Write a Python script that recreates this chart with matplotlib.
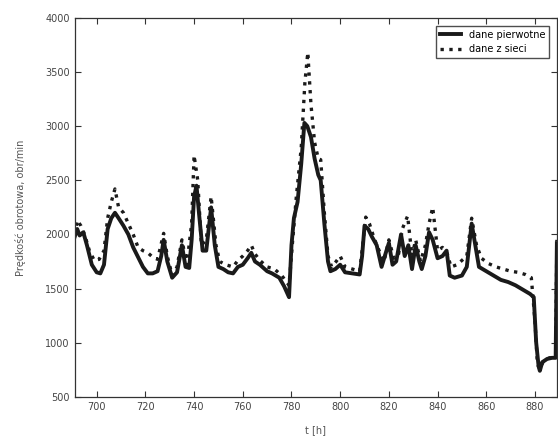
import matplotlib
matplotlib.use("Agg")
import matplotlib.pyplot as plt

# dane pierwotne (solid line)
t_pierw = [691, 692, 693, 694.5, 696, 698, 700, 701.5, 703, 704.5, 706, 707.5, 709, 711, 713,
           715, 717, 719, 721, 723, 725, 726.5, 727.5, 729, 731, 733, 735, 736.5, 738, 739,
           740, 741, 742, 743.5, 745, 747, 748.5, 750, 752, 754, 756, 758, 760, 762, 763.5,
           765, 767, 770, 772, 775, 777, 779, 780, 781, 782.5, 784, 785.3, 786.5, 788, 789.5,
           791, 792, 793.5, 795, 796, 798, 800, 802, 805, 808, 809, 810, 811.5, 813, 815,
           817, 819, 820, 821.5, 823, 825, 826.5, 828, 829.5, 831, 832.5, 833.5, 835, 836.5,
           838, 840, 842, 843.7, 845, 847, 850, 852, 854, 855.5, 857, 860, 863, 866, 869,
           872, 875, 878, 879.5, 880.5, 881.5, 882, 883, 885, 887, 888.5, 889]
v_pierw = [1980, 2050, 1990, 2020, 1900, 1720, 1650, 1640, 1720, 2050, 2150, 2200, 2150, 2080, 2000,
           1880, 1790, 1700, 1640, 1640, 1660, 1800, 1950, 1750, 1600, 1650, 1900, 1700, 1690, 1950,
           2350, 2450, 2200, 1850, 1850, 2250, 1900, 1700, 1680, 1650, 1640, 1700, 1720, 1780, 1830,
           1750, 1720, 1660, 1640, 1600, 1520, 1420, 1900, 2150, 2300, 2650, 3030, 3000, 2900, 2700,
           2550, 2500, 2100, 1750, 1660, 1680, 1720, 1650, 1640, 1630, 1800, 2080, 2050, 1980, 1900,
           1700, 1850, 1920, 1720, 1750, 2000, 1800, 1900, 1680, 1900, 1750, 1680, 1800, 2020,
           1950, 1780, 1800, 1850, 1620, 1600, 1620, 1700, 2100, 1900, 1700, 1660, 1620, 1580, 1560,
           1530, 1490, 1450, 1420, 1000, 780, 740, 820, 850, 860, 860, 1920]

# dane z sieci (dotted line)
t_siec = [691, 692, 693.5, 695, 697, 699, 701, 703, 704.5, 706, 707.5, 709, 711, 713, 715,
          717, 719, 721, 723, 725, 727.5, 729, 731, 733, 735, 737, 739, 740, 741.5, 743,
          745, 747, 749, 750.5, 753, 756, 758, 760, 762, 763.5, 765, 767, 770, 773, 776,
          779, 780.5, 782, 784, 785.5, 786.7, 788, 789.5, 791, 792, 793.5, 795, 796.5, 798,
          800, 802, 805, 808, 809, 810.5, 812, 814, 816, 818, 820, 822, 824, 825.5, 827.7,
          829.5, 831, 833, 835, 836.5, 838, 840, 842, 844, 845.5, 848, 850, 852, 854, 856,
          858, 861, 864, 867, 870, 873, 876, 878.5, 880, 881, 882, 883.5, 886, 888.5, 889]
v_siec = [2000, 2130, 2080, 2000, 1850, 1760, 1770, 1850, 2150, 2300, 2420, 2250, 2200, 2100, 2000,
          1880, 1850, 1830, 1790, 1770, 2010, 1800, 1620, 1700, 1950, 1720, 2100, 2730, 2500, 1900,
          1950, 2350, 1900, 1750, 1720, 1700, 1760, 1800, 1850, 1900, 1820, 1760, 1700, 1680, 1620,
          1530, 1950, 2350, 2800, 3400, 3680, 3200, 2850, 2700, 2690, 2200, 1800, 1700, 1740,
          1800, 1700, 1680, 1660, 1850, 2160, 2100, 1960, 1850, 1750, 1950, 1780, 1820, 2050, 2170,
          1800, 1950, 1750, 1900, 2100, 2250, 1850, 1880, 1820, 1700, 1720, 1760, 1800, 2150, 1900,
          1780, 1730, 1700, 1680, 1660, 1650, 1630, 1600, 1200, 800, 760, 830, 860, 870, 1950]

x_ticks = list(range(700, 881, 20))
y_ticks = list(range(500, 4001, 500))

fig = plt.figure(figsize=(5.58, 4.37), dpi=100)
ax = fig.add_axes([0.134, 0.092, 0.864, 0.867])

ax.plot(t_pierw, v_pierw, color="#1a1a1a", linewidth=2.8, label="dane pierwotne")
ax.plot(t_siec, v_siec, color="#1a1a1a", linewidth=2.4, linestyle=":", label="dane z sieci")

ax.set_xlim(691, 889)
ax.set_ylim(500, 4000)
ax.set_xticks(x_ticks)
ax.set_yticks(y_ticks)
ax.tick_params(direction="in", top=True, right=True, length=4, width=0.8,
               labelsize=7, labelcolor="#444444", colors="#333333")
for s in ax.spines.values():
    s.set_linewidth(0.9)
    s.set_color("#333333")

ax.set_ylabel("Prędkość obrotowa, obr/min", fontsize=7, color="#555555", labelpad=14)
ax.set_xlabel("t [h]", fontsize=7, color="#555555", labelpad=10)

leg = ax.legend(loc="upper right", fontsize=7, frameon=True, fancybox=False,
                edgecolor="#222222", borderpad=0.4, handlelength=2.2,
                borderaxespad=0.8)
leg.get_frame().set_linewidth(1.0)

fig.savefig("out.png", dpi=100)
